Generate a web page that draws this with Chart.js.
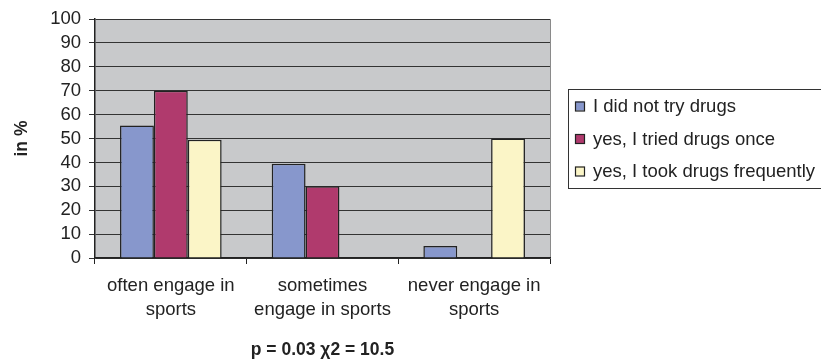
<!DOCTYPE html>
<html>
<head>
<meta charset="utf-8">
<script src="https://cdn.jsdelivr.net/npm/chart.js@4/dist/chart.umd.min.js"></script>
<style>
  html, body { margin: 0; padding: 0; background: #fff; }
  #wrap { width: 821px; height: 361px; position: relative; }
</style>
</head>
<body>
<div id="wrap"><canvas id="chart"></canvas></div>
<script>
const categories = [
    ["often engage in", "sports"],
    ["sometimes", "engage in sports"],
    ["never engage in", "sports"],
]
const seriesNames = ["I did not try drugs", "yes, I tried drugs once", "yes, I took drugs frequently"]
const notTried = [55.5, 39.5, 5]
const triedOnce = [70, 30, 0]
const frequently = [49.5, 0, 50]
const seriesColors = ["#8797cc", "#b03a6d", "#fbf5c7"]
const yTicks = [0, 10, 20, 30, 40, 50, 60, 70, 80, 90, 100]

const FONT = "'Liberation Sans', Arial, sans-serif"
const FS = 18.5

// grey plot background + frame
const plotBackground = {
    id: "plotBackground",
    beforeDraw(chart) {
        const { ctx, chartArea: a } = chart
        ctx.save()
        ctx.fillStyle = "#c8c9cb"
        ctx.fillRect(a.left, a.top, a.right - a.left, a.bottom - a.top)
        ctx.strokeStyle = "#8a8a8a"
        ctx.lineWidth = 1
        ctx.beginPath()
        ctx.moveTo(a.right + 0.5, a.top)
        ctx.lineTo(a.right + 0.5, a.bottom)
        ctx.stroke()
        ctx.restore()
    },
}

// boxed legend on the right, like the old office chart
const boxLegend = {
    id: "boxLegend",
    afterDraw(chart) {
        const { ctx } = chart
        const x = 568, y = 89, w = 262, h = 99
        ctx.save()
        ctx.fillStyle = "#fff"
        ctx.fillRect(x, y, w, h)
        ctx.strokeStyle = "#333"
        ctx.lineWidth = 1
        ctx.strokeRect(x + 0.5, y + 0.5, w, h)
        ctx.font = FS + "px " + FONT
        ctx.textBaseline = "middle"
        chart.data.datasets.forEach((ds, i) => {
            const cy = y + 17 + i * 32.5
            ctx.fillStyle = ds.backgroundColor
            ctx.fillRect(575, cy - 4.5, 9, 9)
            ctx.strokeStyle = "#222"
            ctx.lineWidth = 1.2
            ctx.strokeRect(575.5, cy - 4, 9, 9)
            ctx.fillStyle = "#222"
            ctx.fillText(ds.label, 593, cy + 1)
        })
        ctx.restore()
    },
}

new Chart(document.getElementById("chart"), {
    type: "bar",
    data: {
        labels: categories,
        datasets: [
            { label: seriesNames[0], data: notTried, backgroundColor: seriesColors[0] },
            { label: seriesNames[1], data: triedOnce, backgroundColor: seriesColors[1] },
            { label: seriesNames[2], data: frequently, backgroundColor: seriesColors[2] },
        ].map((d) => ({
            ...d,
            borderColor: "#222",
            borderWidth: 1.5,
            borderSkipped: "bottom",
            categoryPercentage: 0.67,
            barPercentage: 1,
        })),
    },
    plugins: [plotBackground, boxLegend],
    options: {
        responsive: true,
        maintainAspectRatio: false,
        animation: false,
        layout: {
            padding: { top: 13, right: 271, left: 0, bottom: 0 },
        },
        plugins: {
            legend: { display: false },
            tooltip: { enabled: false },
        },
        scales: {
            x: {
                afterFit: (scale) => {
                    scale.height = 103
                },
                grid: {
                    offset: true,
                    drawOnChartArea: false,
                    tickLength: 6,
                    color: "#222",
                    lineWidth: 1,
                },
                border: { color: "#222", width: 1.5 },
                ticks: {
                    font: { family: FONT, size: FS, lineHeight: 1.3 },
                    color: "#222",
                    padding: 10,
                    maxRotation: 0,
                    autoSkip: false,
                },
                title: {
                    display: true,
                    text: "p = 0.03 χ2 = 10.5",
                    font: { family: FONT, size: FS - 1, weight: "bold" },
                    color: "#222",
                    padding: { top: 0, bottom: 0 },
                },
            },
            y: {
                min: 0,
                max: 100,
                afterFit: (scale) => {
                    scale.width = 95
                },
                afterBuildTicks: (scale) => {
                    scale.ticks = yTicks.map((v) => ({ value: v }))
                },
                grid: {
                    color: "#333",
                    lineWidth: 1,
                    tickLength: 6,
                },
                border: { color: "#222", width: 1.5 },
                ticks: {
                    font: { family: FONT, size: FS },
                    color: "#222",
                    padding: 8,
                    autoSkip: false,
                },
                title: {
                    display: true,
                    text: "in %",
                    font: { family: FONT, size: FS - 1, weight: "bold" },
                    color: "#222",
                    padding: { top: 12, bottom: 0 },
                },
            },
        },
    },
})
</script>
</body>
</html>
